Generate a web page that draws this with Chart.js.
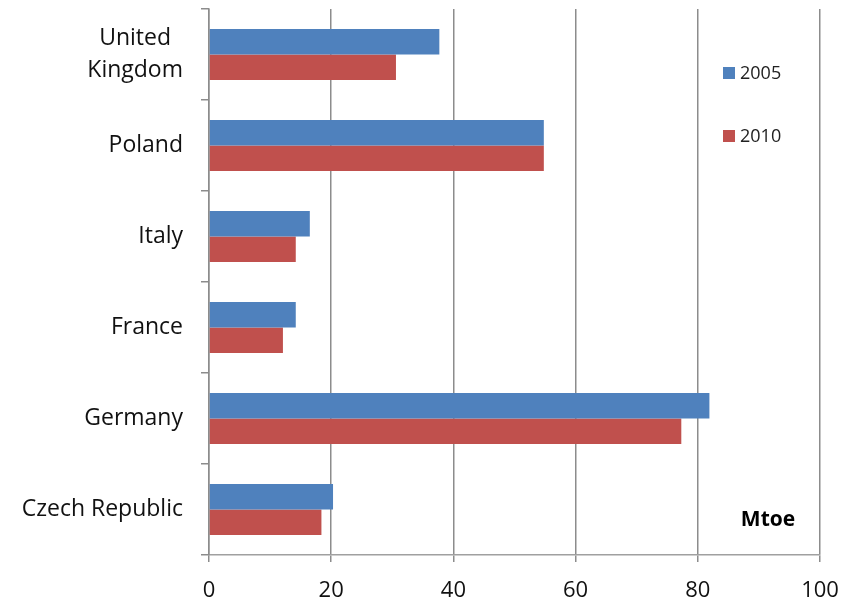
<!DOCTYPE html>
<html>
<head>
<meta charset="utf-8">
<script src="https://cdn.jsdelivr.net/npm/chart.js@4/dist/chart.umd.min.js"></script>
<style>
  html, body { margin: 0; padding: 0; background: #fff; }
  #wrap { width: 858px; height: 601px; }
</style>
</head>
<body>
<div id="wrap"><canvas id="chart"></canvas></div>
<script>
  // data (Mtoe)
  var countries = [["United  ", "Kingdom"], "Poland", "Italy", "France", "Germany", "Czech Republic"];
  var years = ["2005", "2010"];
  var values2005 = [37.7, 54.8, 16.5, 14.2, 81.9, 20.3];
  var values2010 = [30.6, 54.8, 14.2, 12.1, 77.3, 18.4];
  var xTicks = [0, 20, 40, 60, 80, 100];

  var FONT = "'Open Sans', Lato, sans-serif";
  var colors = ["#4F81BD", "#C0504D"];

  // legend + unit label drawn inside the plot area, like the original
  var insideLegend = {
    id: "insideLegend",
    afterDraw: function(chart) {
      var ctx = chart.ctx, a = chart.chartArea;
      ctx.save();
      ctx.font = "18px " + FONT;
      ctx.textBaseline = "middle";
      ctx.textAlign = "left";
      var rows = [73, 136];
      years.forEach(function(y, i) {
        var lx = a.right - 97, ly = rows[i];
        ctx.fillStyle = colors[i];
        ctx.fillRect(lx, ly - 6, 12, 12);
        ctx.fillStyle = "#222";
        ctx.fillText(y, lx + 17, ly + 1);
      });
      ctx.font = "bold 21px " + FONT;
      ctx.fillStyle = "#000";
      ctx.textAlign = "center";
      ctx.fillText("Mtoe", a.right - 52, 520);
      ctx.restore();
    }
  };

  new Chart(document.getElementById("chart"), {
    type: "bar",
    data: {
      labels: countries,
      datasets: [
        { label: years[0], data: values2005, backgroundColor: colors[0] },
        { label: years[1], data: values2010, backgroundColor: colors[1] }
      ]
    },
    options: {
      indexAxis: "y",
      responsive: true,
      maintainAspectRatio: false,
      animation: false,
      layout: { padding: { top: 9, right: 38, left: 0, bottom: 0 } },
      datasets: { bar: { categoryPercentage: 0.56, barPercentage: 1.0 } },
      plugins: { legend: { display: false }, tooltip: { enabled: false } },
      scales: {
        x: {
          min: 0, max: 100,
          afterBuildTicks: function(s) { s.ticks = xTicks.map(function(v) { return { value: v }; }); },
          afterFit: function(s) { s.height = 46; },
          grid: { color: "#8c8c8c", lineWidth: 1.5, tickLength: 7 },
          border: { color: "#a0a0a0", width: 1.5 },
          ticks: { color: "#111", font: { family: FONT, size: 22 }, padding: 16 }
        },
        y: {
          afterFit: function(s) { s.width = 209; s.paddingTop = 0; s.paddingBottom = 0; },
          grid: { drawOnChartArea: false, color: "#8c8c8c", lineWidth: 1.5, tickLength: 8, offset: true },
          border: { color: "#8c8c8c", width: 1.5 },
          ticks: { color: "#111", font: { family: FONT, size: 23, lineHeight: 1.43 }, padding: 18 }
        }
      }
    },
    plugins: [insideLegend]
  });
</script>
</body>
</html>
